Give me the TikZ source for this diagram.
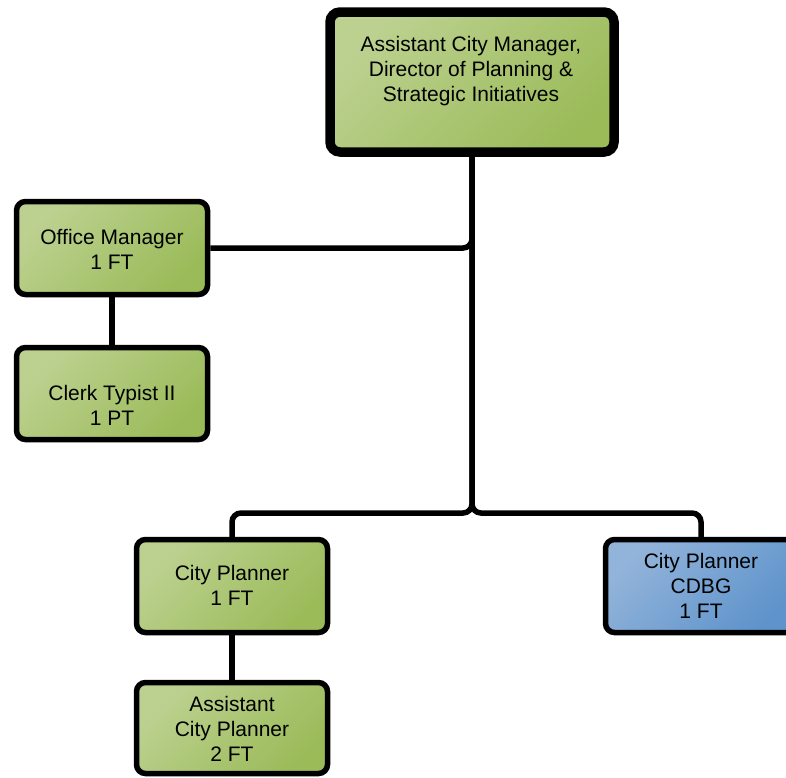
\documentclass[tikz,border=0pt]{standalone}
\usepackage{fontspec}
\setmainfont{Liberation Sans}
\definecolor{gLight}{HTML}{BCD190}
\definecolor{gDark}{HTML}{9BBB59}
\definecolor{bLight}{HTML}{93B4DA}
\definecolor{bDark}{HTML}{5E93CB}
\begin{document}
\begin{tikzpicture}[x=1pt,y=1pt,
  box/.style={draw=black, line width=5.5pt, rounded corners=9pt, minimum width=191pt, minimum height=93pt, inner sep=0pt, left color=gLight, right color=gDark, shading angle=45},
  bluebox/.style={box, left color=bLight, right color=bDark, shading angle=45},
  lbl/.style={anchor=north, align=center, inner sep=0pt, font=\fontsize{21}{25}\selectfont},
  conn/.style={line width=5.5pt, rounded corners=9pt}]
\useasboundingbox (0,0) rectangle (786,-777);
\clip (0,0) rectangle (786,-777);
% boxes
\node[box, line width=9.5pt, rounded corners=10pt, minimum width=284pt, minimum height=140pt] (top) at (472,-82) {};
\node[box] (om) at (112,-248) {};
\node[box, minimum height=92pt] (ct) at (112,-393.5) {};
\node[box] (cp) at (232,-586) {};
\node[box, minimum height=91pt] (acp) at (232,-728) {};
\node[bluebox] (cdbg) at (701,-586) {};
% connectors
\coordinate (bus) at (472,-513);
\draw[conn] (top.south) -- (top.south |- bus) -| (cp.north);
\draw[conn] (top.south) -- (top.south |- bus) -| (cdbg.north);
\draw[conn] (om.east) -| (top.south);
\draw[conn] (om.south) -- (ct.north);
\draw[conn] (cp.south) -- (acp.north);
% labels
\node[lbl] (topt) at (471,-36) {Assistant City Manager,\\Director of Planning \&\\Strategic Initiatives};
\node[lbl] (omt) at (112,-229) {Office Manager\\1 FT};
\node[lbl] (ctt) at (112,-385) {Clerk Typist II\\1 PT};
\node[lbl] (cpt) at (232,-565) {City Planner\\1 FT};
\node[lbl] (acpt) at (232,-696) {Assistant\\City Planner\\2 FT};
\node[lbl] (cdbgt) at (701,-553) {City Planner\\CDBG\\1 FT};
\end{tikzpicture}
\end{document}
